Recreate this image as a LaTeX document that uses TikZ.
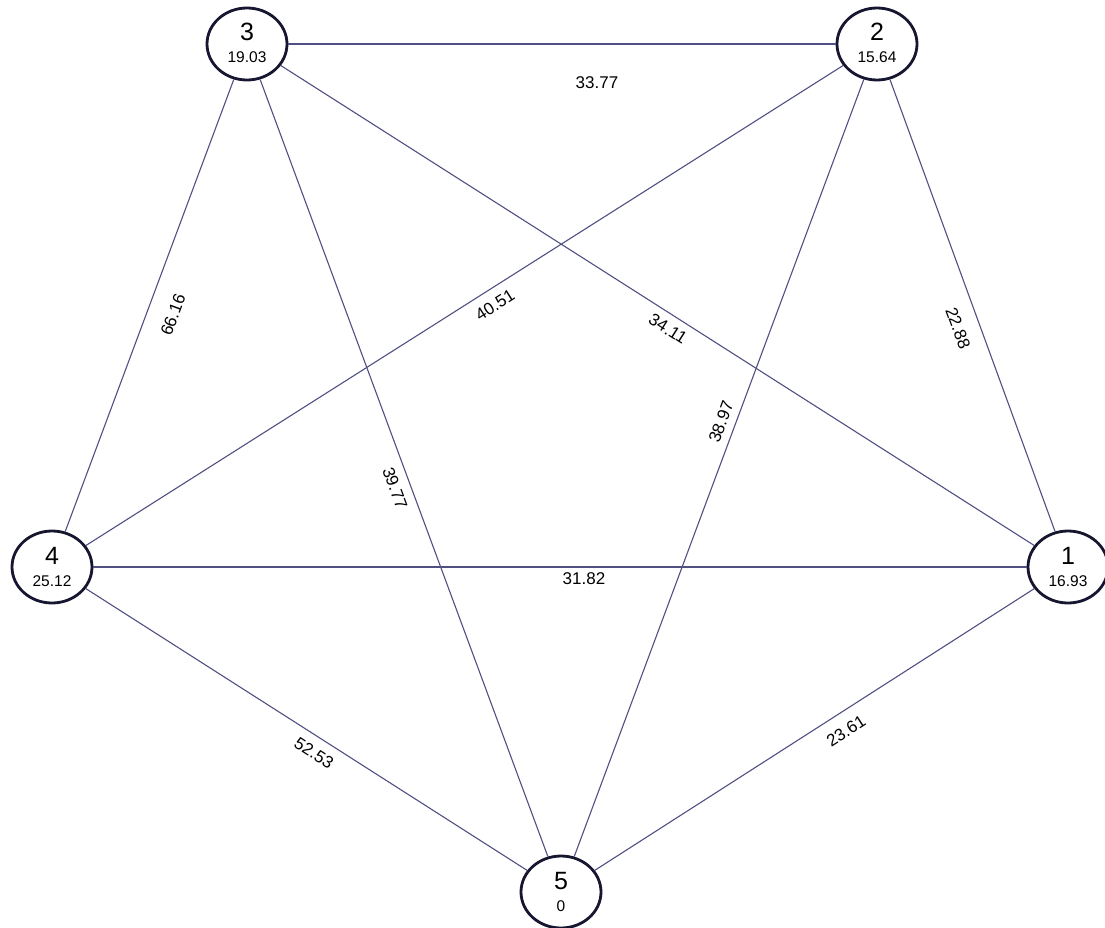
\documentclass[tikz,border=0pt]{standalone}
\usepackage{fontspec}
\setmainfont{Liberation Sans}
\usetikzlibrary{shapes.geometric}
\definecolor{edgecol}{RGB}{80,80,130}
\definecolor{nodecol}{RGB}{22,22,48}
\begin{document}
\begin{tikzpicture}[x=1pt,y=-1pt,
  vert/.style={ellipse,draw=nodecol,line width=2.8pt,fill=white,minimum width=80pt,minimum height=72pt,inner sep=0pt},
  vnum/.style={anchor=base,inner sep=0pt,font=\fontsize{25}{25}\selectfont},
  vval/.style={anchor=base,inner sep=0pt,font=\fontsize{15.5}{15.5}\selectfont},
  edge/.style={draw=edgecol,line width=1.1pt},
  wlab/.style={inner sep=0pt,font=\fontsize{17}{17}\selectfont}]
\fill[white] (0,0) rectangle (1105,928);
\useasboundingbox (0,0) rectangle (1105,928);
% vertices
\node[vert] (n3) at (247,44) {};
\node[vert] (n2) at (877,44) {};
\node[vert] (n4) at (52,567) {};
\node[vert] (n1) at (1068,567) {};
\node[vert] (n5) at (561,892) {};
% edges
\draw[edge] (n3) -- (n2);
\draw[edge] (n3) -- (n4);
\draw[edge] (n3) -- (n5);
\draw[edge] (n3) -- (n1);
\draw[edge] (n2) -- (n4);
\draw[edge] (n2) -- (n1);
\draw[edge] (n2) -- (n5);
\draw[edge] (n4) -- (n1);
\draw[edge] (n4) -- (n5);
\draw[edge] (n1) -- (n5);
% vertex texts
\node[vnum] (t3) at ([yshift=3pt]n3.center) {3};
\node[vval] (v3) at ([yshift=-19pt]n3.center) {19.03};
\node[vnum] (t2) at ([yshift=3pt]n2.center) {2};
\node[vval] (v2) at ([yshift=-19pt]n2.center) {15.64};
\node[vnum] (t4) at ([yshift=3pt]n4.center) {4};
\node[vval] (v4) at ([yshift=-19pt]n4.center) {25.12};
\node[vnum] (t1) at ([yshift=3pt]n1.center) {1};
\node[vval] (v1) at ([yshift=-19pt]n1.center) {16.93};
\node[vnum] (t5) at ([yshift=3pt]n5.center) {5};
\node[vval] (v5) at ([yshift=-19pt]n5.center) {0};
% edge weights
\node[wlab] (w32) at (597,83) {33.77};
\node[wlab,rotate=69.6] (w34) at (173,315) {66.16};
\node[wlab,rotate=32.4] (w24) at (495,305) {40.51};
\node[wlab,rotate=-32.5] (w31) at (668,329) {34.11};
\node[wlab,rotate=-69.9] (w21) at (958,328) {22.88};
\node[wlab,rotate=-69.7] (w35) at (395,488) {39.77};
\node[wlab,rotate=69.6] (w25) at (721,422) {38.97};
\node[wlab] (w41) at (584,579) {31.82};
\node[wlab,rotate=-32.6] (w45) at (314,753) {52.53};
\node[wlab,rotate=32.7] (w15) at (846,731) {23.61};
\end{tikzpicture}
\end{document}
